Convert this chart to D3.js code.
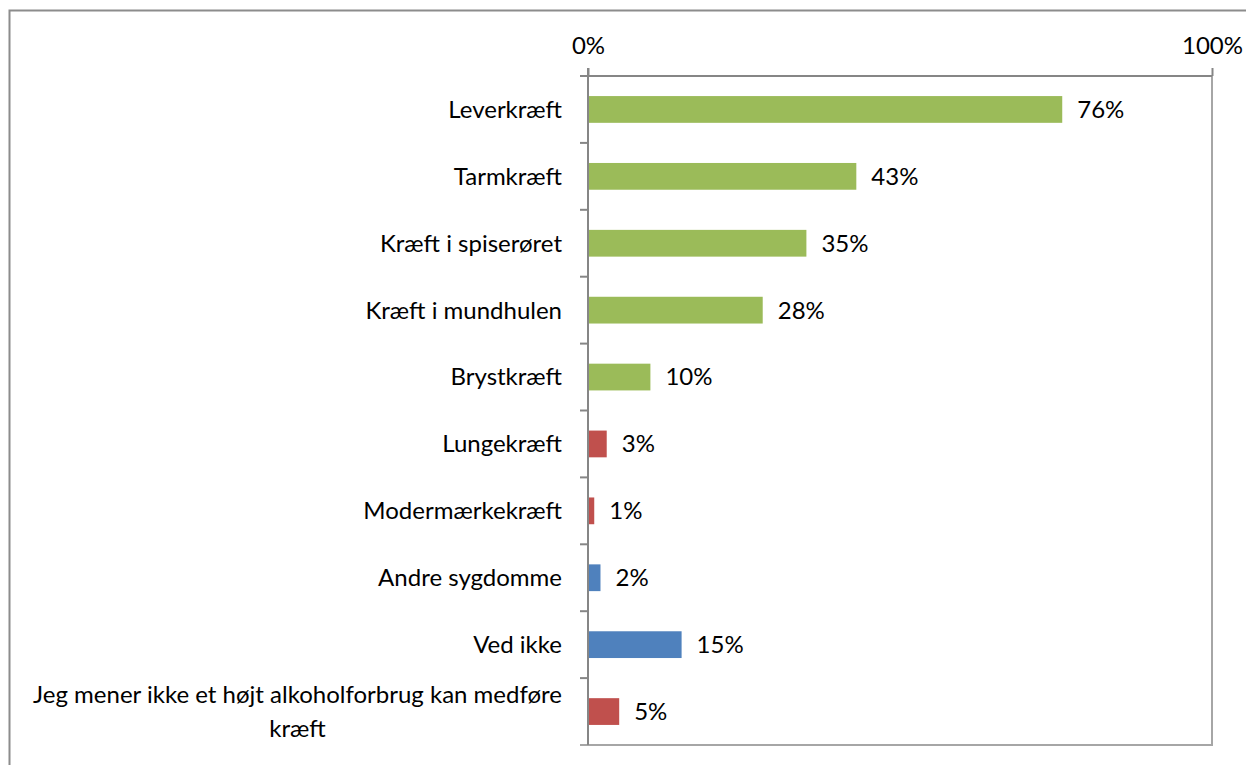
<!DOCTYPE html>
<html>
<head>
<meta charset="utf-8">
<script src="https://cdn.jsdelivr.net/npm/d3@7"></script>
<style>
  body { margin: 0; background: #fff; }
  svg { display: block; }
  text { font-family: Lato, "Noto Sans", sans-serif; fill: #000; }
</style>
</head>
<body>
<div id="chart"></div>
<script>
const categories = [
  'Leverkræft',
  'Tarmkræft',
  'Kræft i spiserøret',
  'Kræft i mundhulen',
  'Brystkræft',
  'Lungekræft',
  'Modermærkekræft',
  'Andre sygdomme',
  'Ved ikke',
  'Jeg mener ikke et højt alkoholforbrug kan medføre kræft'
];
const values = [76, 43, 35, 28, 10, 3, 1, 2, 15, 5];
const groups = ['green', 'green', 'green', 'green', 'green', 'red', 'red', 'blue', 'blue', 'red'];
const tickValues = [0, 100];

const colors = { green: '#9bbb59', red: '#c0504d', blue: '#4f81bd' };

const width = 1246;
const height = 765;
const plotLeft = 588, plotRight = 1212, plotTop = 76, plotBottom = 745;
const fontSize = '24px';

const svg = d3.select('#chart')
    .append('svg')
    .attr('width', width)
    .attr('height', height);

// outer chart frame (runs past the picture edges)
svg.append('rect')
    .attr('x', 9.5)
    .attr('y', 10.5)
    .attr('width', 1300)
    .attr('height', 800)
    .attr('fill', '#fff')
    .attr('stroke', '#8c8c8c')
    .attr('stroke-width', 2);

const x = d3.scaleLinear().domain([0, 100]).range([plotLeft, plotRight]);
const y = d3.scaleBand().domain(categories).range([plotTop, plotBottom]).paddingInner(0.6).paddingOuter(0.3);
const yBand = d3.scaleBand().domain(categories).range([plotTop, plotBottom]);

// plot area border (right and bottom)
svg.append('path')
    .attr('fill', 'none')
    .attr('stroke', '#a6a6a6')
    .attr('stroke-width', 2)
    .attr('d', `M${plotRight},${plotTop} V${plotBottom} H${plotLeft - 8}`);

// bars
svg.selectAll('.bar')
    .data(categories)
    .enter()
    .append('rect')
    .attr('class', 'bar')
    .attr('x', x(0))
    .attr('y', d => y(d))
    .attr('width', (d, i) => x(values[i]) - x(0))
    .attr('height', y.bandwidth())
    .attr('fill', (d, i) => colors[groups[i]]);

// top axis
const xAxis = svg.append('g')
    .attr('transform', `translate(0,${plotTop})`)
    .call(d3.axisTop(x).tickValues(tickValues).tickFormat(d => d + '%').tickSize(8).tickPadding(14));
xAxis.select('.domain').attr('stroke', '#868686').attr('stroke-width', 2).attr('d', `M${plotLeft - 8},0H${plotRight}`);
xAxis.selectAll('.tick line').attr('stroke', '#868686').attr('stroke-width', 2);
xAxis.selectAll('text').style('font-size', fontSize).style('font-family', 'Lato, sans-serif').attr('fill', '#000');

// left axis
const yAxis = svg.append('g')
    .attr('transform', `translate(${plotLeft},0)`)
    .call(d3.axisLeft(yBand).tickSize(0).tickFormat(''));
yAxis.select('.domain').attr('stroke', '#868686').attr('stroke-width', 2).attr('d', `M0,${plotTop - 8}V${plotBottom}`);
yAxis.selectAll('.tick').remove();

// category dividers
const dividers = d3.range(categories.length + 1).map(i => plotTop + i * yBand.step());
svg.selectAll('.divider')
    .data(dividers.slice(1, -1))
    .enter()
    .append('line')
    .attr('x1', plotLeft - 8)
    .attr('x2', plotLeft)
    .attr('y1', d => d)
    .attr('y2', d => d)
    .attr('stroke', '#868686')
    .attr('stroke-width', 2);

// category labels, wrapped when too long
const labelRight = plotLeft - 26;
const maxLabelWidth = 560;
const labels = svg.selectAll('.label')
    .data(categories)
    .enter()
    .append('text')
    .attr('class', 'label')
    .style('font-size', fontSize);

labels.each(function (d) {
    const t = d3.select(this);
    const cy = yBand(d) + yBand.bandwidth() / 2;
    t.text(d);
    if (this.getComputedTextLength() <= maxLabelWidth) {
        t.attr('x', labelRight).attr('y', cy).attr('dy', '0.35em').attr('text-anchor', 'end');
        return;
    }
    // split into lines
    t.text(null);
    const words = d.split(' ');
    const lines = [];
    let line = [];
    const probe = svg.append('text').style('font-size', fontSize);
    words.forEach(w => {
        const test = line.concat(w).join(' ');
        probe.text(test);
        if (probe.node().getComputedTextLength() > maxLabelWidth && line.length) {
            lines.push(line.join(' '));
            line = [w];
        } else {
            line.push(w);
        }
    });
    lines.push(line.join(' '));
    let widest = 0;
    lines.forEach(l => {
        probe.text(l);
        widest = Math.max(widest, probe.node().getComputedTextLength());
    });
    probe.remove();
    const cx = labelRight - widest / 2;
    const lh = 34;
    t.attr('text-anchor', 'middle');
    lines.forEach((l, i) => {
        t.append('tspan')
            .attr('x', cx)
            .attr('y', cy + (i - (lines.length - 1) / 2) * lh)
            .attr('dy', '0.35em')
            .text(l);
    });
});

// value labels
svg.selectAll('.value')
    .data(categories)
    .enter()
    .append('text')
    .attr('class', 'value')
    .attr('x', (d, i) => x(values[i]) + 15)
    .attr('y', d => yBand(d) + yBand.bandwidth() / 2)
    .attr('dy', '0.35em')
    .style('font-size', fontSize)
    .text((d, i) => values[i] + '%');
</script>
</body>
</html>
